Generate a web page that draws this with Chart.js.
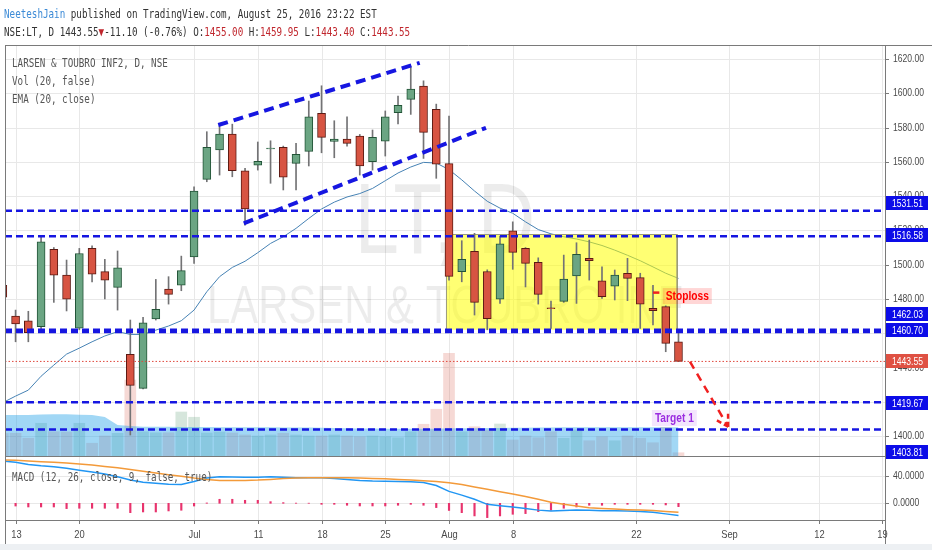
<!DOCTYPE html>
<html>
<head>
<meta charset="utf-8">
<script src="https://cdn.jsdelivr.net/npm/chart.js@4.4.0/dist/chart.umd.min.js"></script>
<style>
  body { margin: 0; background: #fff; }
  #wrap { position: relative; width: 932px; height: 550px; overflow: hidden; background: #fff; }
  #c { position: absolute; left: 0; top: 0; }
  .tx { position: absolute; font: 12px "DejaVu Sans Mono", monospace; line-height: 14px; white-space: pre;
        transform: scaleX(0.77); transform-origin: 0 0; color: #333; }
  .lg { color: #555; }
  .dn { color: #c0262d; }
</style>
</head>
<body>
<div id="wrap">
  <canvas id="c" width="932" height="550"></canvas>
  <div class="tx" style="left:4px;top:7px"><span style="color:#3d8bd6">NeeteshJain</span> published on TradingView.com, August 25, 2016 23:22 EST</div>
  <div class="tx" style="left:4px;top:25px">NSE:LT, D 1443.55<span class="dn">▼</span>-11.10 (-0.76%) O:<span class="dn">1455.00</span> H:<span class="dn">1459.95</span> L:<span class="dn">1443.40</span> C:<span class="dn">1443.55</span></div>
  <div class="tx lg" style="left:12px;top:56px">LARSEN &amp; TOUBRO INF2, D, NSE</div>
  <div class="tx lg" style="left:12px;top:74px">Vol (20, false)</div>
  <div class="tx lg" style="left:12px;top:92px">EMA (20, close)</div>
  <div class="tx lg" style="left:12px;top:470px">MACD (12, 26, close, 9, false, true)</div>
</div>
<script>
// daily bars, first entry is the half hidden bar before Jun 13 (x = -1)
const openP  = [1488, 1470, 1467.3, 1463.8, 1508.9, 1494, 1463, 1509.5, 1495.9, 1486.8, 1447.7,
  1427.8, 1468.3, 1485.8, 1488, 1504.6, 1549.8, 1566.9, 1576.2, 1554.8, 1558.1,
  1567.5, 1568.5, 1559.1, 1566.1, 1588.3, 1572, 1573.3, 1575, 1560.1, 1572.1,
  1588.7, 1596.5, 1604.2, 1590.6, 1559, 1495.9, 1507.8, 1496, 1479.8, 1519.8,
  1509.5, 1501.4, 1474.8, 1478.6, 1493.4, 1503.7, 1490.6, 1487.5, 1494.9, 1492.4,
  1474.5, 1475.5, 1455];
const highP  = [1490, 1473.5, 1472.8, 1516.7, 1510, 1502.7, 1509.5, 1511, 1503.1, 1508, 1467.7,
  1469.3, 1491.4, 1493, 1505, 1545.5, 1577.6, 1581, 1582, 1556.2, 1571.6,
  1572.3, 1569.2, 1570.8, 1595.5, 1604.4, 1584, 1586.3, 1576, 1578.6, 1589.7,
  1598.4, 1615.5, 1607.3, 1593.7, 1586.7, 1514, 1518.3, 1497, 1516.7, 1525,
  1510, 1504, 1478.8, 1505.6, 1512.8, 1514.4, 1498.8, 1496.9, 1503.7, 1495,
  1488, 1476, 1459.95];
const lowP   = [1476, 1455, 1455, 1462.5, 1478, 1473, 1462, 1490, 1480, 1473.5, 1400.6,
  1427.5, 1467.7, 1477, 1484.8, 1500.8, 1548.4, 1552.3, 1551.3, 1523, 1555.2,
  1547.5, 1543.6, 1543.6, 1557.6, 1565.3, 1562.4, 1569.2, 1552.3, 1555.2, 1563.4,
  1582.1, 1587.7, 1562, 1550.4, 1491, 1490, 1470.6, 1462, 1477.4, 1497.3,
  1487, 1477, 1462.8, 1478, 1477.4, 1491, 1480.3, 1479.4, 1479, 1462.8,
  1464.8, 1449.2, 1443.4];
const closeP = [1481, 1465.5, 1460.3, 1513.4, 1493.9, 1479.8, 1506.5, 1494.5, 1491, 1498.2, 1429.6,
  1466.1, 1473.9, 1482.7, 1496.5, 1543, 1568.5, 1576.2, 1554.8, 1532.6, 1560.3,
  1567.9, 1551.1, 1564.4, 1586.3, 1574.3, 1573.3, 1570.8, 1557.7, 1574.3, 1586.3,
  1593, 1602.5, 1577.2, 1558.7, 1493.2, 1503.1, 1478, 1468.5, 1512.2, 1507.2,
  1500.8, 1482.7, 1474.3, 1491.6, 1506, 1502.3, 1481.3, 1493.9, 1492, 1476.9,
  1473.1, 1454.1, 1443.55];
const volume = [900, 910, 710, 1310, 970, 960, 1310, 510, 800, 910, 3040,
  970, 930, 930, 1760, 1550, 920, 960, 920, 840, 800,
  840, 910, 840, 800, 800, 840, 800, 770, 800, 770,
  730, 970, 1270, 1870, 4110, 970, 1170, 1040, 1280, 640,
  800, 730, 970, 710, 1040, 610, 770, 610, 800, 710,
  530, 1150, 130];
const volMA = [1640, 1640, 1640, 1665, 1670, 1670, 1655, 1640, 1560, 1240, 1200,
  1170, 1170, 1170, 1165, 1160, 1160, 1155, 1150, 1150, 1150,
  1150, 1145, 1140, 1140, 1130, 1120, 1110, 1100, 1100, 1095,
  1090, 1090, 1090, 1095, 1110, 1110, 1115, 1120, 1125, 1130,
  1135, 1140, 1145, 1150, 1150, 1150, 1150, 1150, 1150, 1150,
  1150, 1150, 1150];
const ema20 = [1419.5, 1423.3, 1426.8, 1434.9, 1441.4, 1447.8, 1451.3, 1455, 1458.4, 1460.9, 1459.3,
  1459.3, 1461.8, 1464.2, 1467.3, 1473.5, 1484.2, 1493, 1498.4, 1502, 1507,
  1512.4, 1516.3, 1521.2, 1527, 1532.5, 1536.5, 1539.5, 1541.5, 1544.5, 1549,
  1553.5, 1557, 1559.7, 1559.3, 1555.5, 1549.5, 1543, 1537, 1533, 1530,
  1525, 1520.5, 1518, 1516.3, 1515, 1513.3, 1511.2, 1508.5, 1505.5, 1502.3,
  1498.7, 1495, 1492];
const macdLine = [62, 60, 57, 55, 53.5, 51.2, 48.5, 45.8, 42.8, 39, 34,
  31, 29.5, 28, 27.5, 32, 37, 38.8, 38.5, 38, 38.2,
  38.8, 38, 37.6, 37.5, 37.5, 36.5, 35, 33.5, 32.6, 32.4,
  32, 31.6, 30.5, 26, 17.5, 12, 6, -1.5, -3.5, -5.5,
  -7.5, -10, -11.3, -10.5, -9.8, -10.3, -10.8, -11, -11.3, -12,
  -13.2, -15.5, -18];
const signalLine = [63.5, 63, 62, 61, 60.3, 59, 57.5, 56, 54, 52, 49.5,
  47, 44.5, 42, 39.5, 37, 35, 33.5, 33.3, 33.5, 34,
  35, 36.2, 37, 37.5, 37.5, 37.5, 37.5, 37, 36.5, 36,
  35, 34, 33, 32, 30, 27.5, 24, 20.5, 17, 13.5,
  10, 6, 1.5, -1.5, -4, -6.4, -7.5, -8.5, -9.3, -9.8,
  -10.5, -12, -13.2];
const macdHist = [-3.5, -4, -5.4, -5.4, -5.4, -7.8, -7.3, -7.3, -7.3, -7.3, -13.7,
  -12.7, -12.7, -11.2, -10.2, -4, 0.5, 5.9, 5.9, 4.4, 4.4,
  2.4, 1, 0.3, 0.2, -1.5, -1.5, -2.9, -3.9, -3.9, -3.9,
  -2.9, -1.5, -2.9, -6.3, -10.5, -13.7, -18.5, -21, -18.5, -16.1,
  -15.1, -12.2, -10.2, -7.3, -5.4, -2.9, -2.9, -1.5, -1.5, -1.5,
  -1.5, -2.4, -4.9];

const xTickPos  = [0, 5, 14, 19, 24, 29, 34, 39, 48.7, 56, 63, 68];
const xTickText = ['13', '20', 'Jul', '11', '18', '25', 'Aug', '8', '22', 'Sep', '12', '19'];
const priceTicks = [1400, 1420, 1440, 1460, 1480, 1500, 1520, 1540, 1560, 1580, 1600, 1620];
const macdTicks = [0, 40];

// drawings
const levels = [1531.51, 1516.58, 1462.03, 1460.70, 1419.67, 1403.81];
const lastPrice = 1443.55;
const upperChX = [15.9, 31.7],  upperChY = [1581.5, 1617.8];
const lowerChX = [17.9, 36.9],  lowerChY = [1524.1, 1579.9];
const zoneX = [33.8, 51.9],     zoneY = [1462.03, 1517.6];
const arrowX = [52.9, 55.9],    arrowY = [1443.4, 1405.4];
const stopTickX = [50.0, 50.5], stopTickY = [1483.7, 1483.7];
const noteText = ['Stoploss', 'Target 1'];
const noteX = [51.0, 50.15];
const noteY = [1481.7, 1410.5];

// pixel nudges of the right-axis price tags (kept apart from data)
const tagNudge = [-8, -1, -16, -2, 1, 22];

const X_MIN = -0.83, X_MAX = 68.2;
const at = (arr) => arr.map((v, i) => ({ x: i - 1, y: v }));
const pair = (xs, ys) => xs.map((x, i) => ({ x, y: ys[i] }));
const isUp = closeP.map((c, i) => c >= openP[i]);
const BLUE = 'rgb(22,22,225)';

function cText(ctx, s, x, y, font, sx, align, base) {
  ctx.save();
  ctx.font = font;
  ctx.textAlign = align || 'left';
  ctx.textBaseline = base || 'middle';
  ctx.translate(x, y);
  ctx.scale(sx, 1);
  ctx.fillText(s, 0, 0);
  ctx.restore();
}
function seg(ctx, x0, y0, x1, y1) {
  ctx.beginPath(); ctx.moveTo(x0, y0); ctx.lineTo(x1, y1); ctx.stroke();
}

const backdrop = {
  id: 'backdrop',
  beforeDatasetsDraw(chart) {
    const { ctx, chartArea: a, scales } = chart;
    const xs = scales.x, ys = scales.y, ms = scales.macd;
    ctx.save();
    ctx.strokeStyle = '#e8e8e8';
    ctx.lineWidth = 1;
    xTickPos.forEach(v => {
      const px = Math.round(xs.getPixelForValue(v)) + 0.5;
      seg(ctx, px, a.top, px, a.bottom);
    });
    priceTicks.forEach(v => {
      const py = Math.round(ys.getPixelForValue(v)) + 0.5;
      seg(ctx, a.left, py, a.right, py);
    });
    macdTicks.forEach(v => {
      const py = Math.round(ms.getPixelForValue(v)) + 0.5;
      seg(ctx, a.left, py, a.right, py);
    });
    // watermark
    ctx.fillStyle = 'rgba(0,0,0,0.075)';
    const cx = (a.left + a.right) / 2;
    cText(ctx, 'LT, D', cx, 253, '100px "Liberation Sans"', 0.8, 'center', 'alphabetic');
    cText(ctx, 'LARSEN & TOUBRO INF', cx, 323, '53px "Liberation Sans"', 0.79, 'center', 'alphabetic');
    ctx.restore();
  },
  afterDatasetsDraw(chart) {
    const { ctx, chartArea: a, scales } = chart;
    const xs = scales.x, ys = scales.y;
    ctx.save();
    // arrow head
    const p0 = { x: xs.getPixelForValue(arrowX[0]), y: ys.getPixelForValue(arrowY[0]) };
    const p1 = { x: xs.getPixelForValue(arrowX[1]), y: ys.getPixelForValue(arrowY[1]) };
    const ang = Math.atan2(p1.y - p0.y, p1.x - p0.x);
    ctx.strokeStyle = '#f02020';
    ctx.lineWidth = 2.5;
    ctx.setLineDash([5, 3]);
    [-0.52, 0.52].forEach(d => {
      const w = ang + Math.PI + d;
      seg(ctx, p1.x, p1.y, p1.x + 16 * Math.cos(w), p1.y + 16 * Math.sin(w));
    });
    ctx.setLineDash([]);
    // text notes
    const noteFg = ['#ff0000', '#9b2de0'];
    const noteBg = ['rgba(255,0,0,0.16)', 'rgba(160,40,240,0.12)'];
    noteText.forEach((t, i) => {
      const px = xs.getPixelForValue(noteX[i]);
      const py = ys.getPixelForValue(noteY[i]);
      ctx.font = 'bold 12px "Liberation Sans"';
      const w = ctx.measureText(t).width * 0.85;
      ctx.fillStyle = noteBg[i];
      ctx.fillRect(px - 3, py - 8, w + 6, 16);
      ctx.fillStyle = noteFg[i];
      cText(ctx, t, px, py + 0.5, 'bold 12px "Liberation Sans"', 0.85, 'left');
    });
    ctx.restore();
  },
  afterDraw(chart) {
    const { ctx, chartArea: a, scales } = chart;
    const xs = scales.x, ys = scales.y, ms = scales.macd;
    ctx.save();
    ctx.fillStyle = '#edf0f3';
    ctx.fillRect(0, 544, 932, 6);
    // frame and pane separators
    ctx.strokeStyle = '#7a7a7a';
    ctx.lineWidth = 1;
    seg(ctx, a.left + 0.5, a.top, a.left + 0.5, 544);
    seg(ctx, a.left, a.top + 0.5, 932, a.top + 0.5);
    seg(ctx, a.right + 0.5, a.top, a.right + 0.5, 544);
    seg(ctx, a.left, 456.5, a.right, 456.5);
    seg(ctx, a.left, a.bottom + 0.5, a.right, a.bottom + 0.5);
    // right axis ticks
    ctx.fillStyle = '#4a4a4a';
    const lab = '11px "Liberation Sans"';
    priceTicks.forEach(v => {
      const py = ys.getPixelForValue(v);
      seg(ctx, a.right, Math.round(py) + 0.5, a.right + 4, Math.round(py) + 0.5);
      cText(ctx, v.toFixed(2), a.right + 8, py, lab, 0.78);
    });
    macdTicks.forEach(v => {
      const py = ms.getPixelForValue(v);
      seg(ctx, a.right, Math.round(py) + 0.5, a.right + 4, Math.round(py) + 0.5);
      cText(ctx, v.toFixed(4), a.right + 8, py, lab, 0.78);
    });
    // bottom axis
    xTickPos.forEach((v, i) => {
      const px = Math.round(xs.getPixelForValue(v)) + 0.5;
      seg(ctx, px, a.bottom, px, a.bottom + 4);
      cText(ctx, xTickText[i], px, 535, lab, 0.85, 'center');
    });
    // price tags
    const tag = (v, nudge, bg) => {
      const py = Math.round(ys.getPixelForValue(v) + nudge);
      ctx.fillStyle = bg;
      ctx.fillRect(a.right + 1, py - 7, 42, 14);
      ctx.fillStyle = '#fff';
      cText(ctx, v.toFixed(2), a.right + 7, py + 0.5, lab, 0.78);
    };
    levels.forEach((v, i) => tag(v, tagNudge[i], '#0c0ce8'));
    tag(lastPrice, 0, '#df5143');
    ctx.restore();
  }
};

const datasets = [
  { type: 'bar', label: 'vol', data: at(volume), yAxisID: 'vol', grouped: false, barThickness: 11,
    backgroundColor: isUp.map(u => u ? 'rgba(107,165,131,0.28)' : 'rgba(215,84,66,0.22)'), order: 20 },
  { type: 'line', label: 'volMA', data: at(volMA), yAxisID: 'vol', fill: 'origin', borderWidth: 0,
    backgroundColor: 'rgba(30,160,230,0.42)', pointRadius: 0, order: 19 },
  { type: 'line', label: 'ema', data: at(ema20), yAxisID: 'y', borderColor: '#4682b4', borderWidth: 1,
    pointRadius: 0, fill: false, order: 18 },
  { type: 'line', label: 'zone', data: pair(zoneX, [zoneY[1], zoneY[1]]), yAxisID: 'y',
    fill: { value: zoneY[0] }, backgroundColor: 'rgba(255,255,0,0.55)', borderWidth: 0, pointRadius: 0, order: 17 },
  { type: 'line', label: 'zoneEdge', yAxisID: 'y', borderColor: '#9a9a7a', borderWidth: 1, pointRadius: 0, fill: false,
    data: [{ x: zoneX[0], y: zoneY[0] }, { x: zoneX[0], y: zoneY[1] }, { x: zoneX[1], y: zoneY[1] }, { x: zoneX[1], y: zoneY[0] }],
    order: 16 },
  { type: 'bar', label: 'wick', data: highP.map((h, i) => ({ x: i - 1, y: [lowP[i], h] })), yAxisID: 'y',
    grouped: false, barThickness: 1, backgroundColor: '#737375', order: 15 },
  { type: 'bar', label: 'body', data: openP.map((o, i) => ({ x: i - 1, y: [o, closeP[i]] })), yAxisID: 'y',
    grouped: false, barThickness: 8, minBarLength: 1, borderWidth: 1, borderSkipped: false,
    backgroundColor: isUp.map(u => u ? '#6ba583' : '#d75442'),
    borderColor: isUp.map(u => u ? '#225437' : '#5b1a13'), order: 14 },
  { type: 'bar', label: 'hist', data: at(macdHist), yAxisID: 'macd', grouped: false, barThickness: 1.5,
    backgroundColor: '#e8336d', order: 13 },
  { type: 'line', label: 'macd', data: at(macdLine), yAxisID: 'macd', borderColor: '#2196f3', borderWidth: 1.5,
    pointRadius: 0, fill: false, order: 12 },
  { type: 'line', label: 'signal', data: at(signalLine), yAxisID: 'macd', borderColor: '#f39a3a', borderWidth: 1.5,
    pointRadius: 0, fill: false, order: 11 },
  ...levels.map((v, i) => ({ type: 'line', label: 'lvl' + i, yAxisID: 'y',
    data: [{ x: X_MIN, y: v }, { x: X_MAX, y: v }], borderColor: BLUE, borderWidth: 2.5, borderDash: [7, 4],
    pointRadius: 0, fill: false, order: 6 })),
  { type: 'line', label: 'chUp', data: pair(upperChX, upperChY), yAxisID: 'y', borderColor: BLUE, borderWidth: 4,
    borderDash: [10, 6], pointRadius: 0, fill: false, order: 5 },
  { type: 'line', label: 'chLo', data: pair(lowerChX, lowerChY), yAxisID: 'y', borderColor: BLUE, borderWidth: 4,
    borderDash: [10, 6], pointRadius: 0, fill: false, order: 5 },
  { type: 'line', label: 'last', data: [{ x: X_MIN, y: lastPrice }, { x: X_MAX, y: lastPrice }], yAxisID: 'y',
    borderColor: '#e0473c', borderWidth: 1, borderDash: [1.5, 2], pointRadius: 0, fill: false, order: 4 },
  { type: 'line', label: 'arrow', data: pair(arrowX, arrowY), yAxisID: 'y', borderColor: '#f02020', borderWidth: 2.5,
    borderDash: [8, 6], pointRadius: 0, fill: false, order: 3 },
  { type: 'line', label: 'stopTick', data: pair(stopTickX, stopTickY), yAxisID: 'y', borderColor: '#f02020',
    borderWidth: 2.5, pointRadius: 0, fill: false, order: 2 }
];

new Chart(document.getElementById('c'), {
  type: 'line',
  data: { datasets },
  options: {
    responsive: false,
    animation: false,
    devicePixelRatio: 1,
    layout: { padding: { left: 5, right: 47, top: 45, bottom: 30 } },
    plugins: { legend: { display: false }, tooltip: { enabled: false } },
    elements: { line: { tension: 0 } },
    scales: {
      x: { type: 'linear', min: X_MIN, max: X_MAX, offset: false, display: false },
      y: { type: 'linear', min: 1351.0, max: 1628.2, display: false },
      vol: { type: 'linear', min: -2560, max: 16440, display: false },
      macd: { type: 'linear', min: -24.47, max: 671.5, display: false }
    }
  },
  plugins: [backdrop]
});
</script>
</body>
</html>
